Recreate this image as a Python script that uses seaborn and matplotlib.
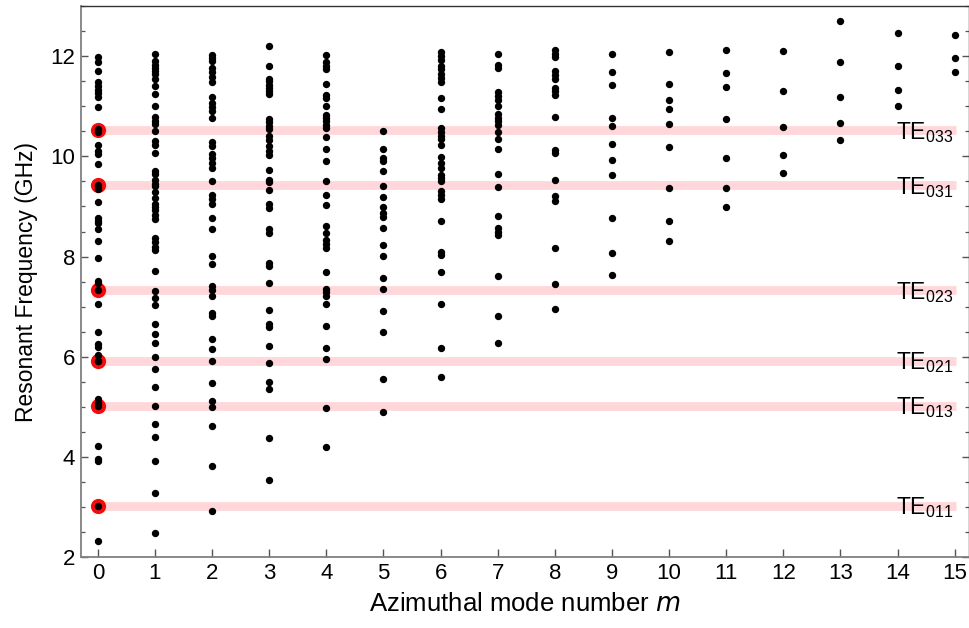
import numpy as np
import pandas as pd
import matplotlib
matplotlib.use("Agg")
import matplotlib.pyplot as plt
import seaborn as sns
from matplotlib.ticker import MultipleLocator

# ---------------- data ----------------
m0 = [11.98, 11.88, 11.71, 11.49, 11.40, 11.33, 11.27, 11.19, 10.98, 10.55, 10.48,
      10.22, 10.10, 10.05, 9.85, 9.39, 9.35, 9.08, 8.78, 8.72, 8.67, 8.55, 8.32,
      7.98, 7.51, 7.47, 7.33, 7.05, 6.50, 6.25, 6.20, 6.03, 5.91, 5.15, 5.07, 5.02,
      4.22, 3.97, 3.92, 3.03, 2.33, 10.52, 9.42, 5.92]
m1 = [12.05, 11.90, 11.83, 11.77, 11.71, 11.65, 11.55, 11.40, 11.25, 11.01, 10.78,
      10.71, 10.65, 10.51, 10.30, 10.22, 10.07, 9.71, 9.65, 9.53, 9.45, 9.40, 9.28,
      9.17, 9.05, 8.99, 8.92, 8.83, 8.75, 8.37, 8.29, 8.20, 8.13, 7.72, 7.32, 7.17,
      7.03, 6.65, 6.45, 6.28, 5.99, 5.75, 5.39, 5.02, 4.65, 4.41, 3.92, 3.29, 2.49]
m2 = [12.03, 11.97, 11.90, 11.77, 11.68, 11.58, 11.48, 11.19, 11.07, 10.99, 10.90,
      10.77, 10.28, 10.20, 10.05, 9.97, 9.87, 9.77, 9.50, 9.23, 9.15, 9.05, 8.77,
      8.55, 8.01, 7.85, 7.41, 7.34, 7.21, 6.88, 6.81, 6.35, 6.15, 5.91, 5.47, 5.11,
      4.99, 4.62, 3.83, 2.93]
m3 = [12.20, 11.81, 11.55, 11.50, 11.43, 11.37, 11.30, 11.25, 10.75, 10.68, 10.61,
      10.55, 10.40, 10.33, 10.20, 10.10, 10.03, 9.73, 9.53, 9.48, 9.33, 9.05, 8.97,
      8.55, 8.47, 7.87, 7.81, 7.47, 6.93, 6.65, 6.59, 6.21, 5.88, 5.50, 5.35, 4.38,
      3.55]
m4 = [12.03, 11.88, 11.81, 11.75, 11.45, 11.23, 11.17, 11.00, 10.83, 10.77, 10.70,
      10.63, 10.57, 10.39, 10.15, 9.90, 9.50, 9.23, 9.03, 8.61, 8.48, 8.33, 8.25,
      8.17, 7.70, 7.35, 7.29, 7.22, 7.05, 6.62, 6.17, 5.95, 4.97, 4.21]
m5 = [10.50, 10.15, 9.97, 9.90, 9.70, 9.40, 9.19, 8.99, 8.88, 8.80, 8.58, 8.23,
      8.02, 7.57, 7.35, 6.92, 6.49, 5.55, 4.89]
m6 = [12.08, 12.01, 11.93, 11.81, 11.75, 11.65, 11.57, 11.48, 11.17, 10.95, 10.57,
      10.49, 10.41, 10.35, 10.23, 9.99, 9.87, 9.77, 9.63, 9.57, 9.50, 9.30, 9.22,
      9.15, 8.71, 8.10, 8.03, 7.70, 7.05, 6.18, 5.60]
m7 = [12.05, 11.83, 11.77, 11.28, 11.20, 11.12, 11.01, 10.85, 10.77, 10.70, 10.63,
      10.49, 10.35, 10.15, 9.65, 9.39, 8.81, 8.58, 8.50, 8.43, 7.61, 6.81, 6.27]
m8 = [12.12, 12.05, 11.99, 11.70, 11.63, 11.55, 11.37, 11.30, 11.22, 10.79, 10.13,
      10.07, 9.53, 9.20, 9.10, 8.18, 7.45, 6.95]
m9 = [12.05, 11.69, 11.43, 10.77, 10.61, 10.25, 9.92, 9.63, 8.77, 8.08, 7.63]
m10 = [12.08, 11.45, 11.12, 10.95, 10.65, 10.18, 9.37, 8.72, 8.31]
m11 = [12.12, 11.67, 11.38, 10.75, 9.97, 9.37, 8.99]
m12 = [12.10, 11.31, 10.58, 10.02, 9.67]
m13 = [12.70, 11.88, 11.19, 10.67, 10.33]
m14 = [12.47, 11.81, 11.32, 11.00]
m15 = [12.43, 11.97, 11.68]
columns = [m0, m1, m2, m3, m4, m5, m6, m7, m8, m9, m10, m11, m12, m13, m14, m15]

te_names = ["TE$_{011}$", "TE$_{013}$", "TE$_{021}$", "TE$_{023}$", "TE$_{031}$", "TE$_{033}$"]
te_freqs = [3.03, 5.02, 5.92, 7.33, 9.42, 10.52]

x_ticks = list(range(0, 16))
y_ticks = [2, 4, 6, 8, 10, 12]

# ---------------- build frames ----------------
df = pd.DataFrame({
    "m": np.concatenate([[i] * len(c) for i, c in enumerate(columns)]),
    "f": np.concatenate(columns),
})
te_df = pd.DataFrame({"m": [0] * len(te_freqs), "f": te_freqs, "name": te_names})

# ---------------- style ----------------
sns.set_theme(style="white")
plt.rcParams["font.family"] = ["Liberation Sans", "DejaVu Sans"]
plt.rcParams["mathtext.default"] = "regular"
plt.rcParams["text.color"] = "black"
plt.rcParams["axes.labelcolor"] = "black"
plt.rcParams["xtick.labelcolor"] = "black"
plt.rcParams["ytick.labelcolor"] = "black"

fig = plt.figure(figsize=(9.7, 6.28), dpi=100)
ax = fig.add_axes([0.0832, 0.1126, 0.9158, 0.8778])

# pink bands
for f in te_freqs:
    ax.plot([0, 15.02], [f, f], color="#FFD6DA", lw=6.3, solid_capstyle="butt", zorder=1)

# red circles at m = 0
sns.scatterplot(data=te_df, x="m", y="f", ax=ax, color="#F20D0D", s=120,
                linewidth=0, zorder=2, legend=False)
# black dots
sns.scatterplot(data=df, x="m", y="f", ax=ax, color="black", s=28,
                linewidth=0, zorder=3, legend=False)

# TE labels
for name, f in zip(te_names, te_freqs):
    ax.text(14.97, f - 0.17, name, ha="right", va="baseline", fontsize=16.5,
            color="black", zorder=4)

ax.set_xlim(-0.3, 15.25)
ax.set_ylim(2, 13)
ax.set_xticks(x_ticks)
ax.set_yticks(y_ticks)
ax.yaxis.set_minor_locator(MultipleLocator(0.5))

ax.set_xlabel("Azimuthal mode number $\\it{m}$", fontsize=18.5, labelpad=6)
ax.set_ylabel("Resonant Frequency (GHz)", fontsize=16.5, labelpad=9)

ax.tick_params(axis="both", which="major", labelsize=16, direction="in",
               color="#555555", width=1.0)
ax.tick_params(axis="x", which="major", length=6, bottom=True, top=False, pad=4)
ax.tick_params(axis="y", which="major", length=5, left=True, right=True, pad=4)
ax.tick_params(axis="y", which="minor", length=3, left=True, right=True,
               direction="in", color="#555555", width=0.9)
ax.tick_params(axis="x", which="minor", bottom=False, top=False)

for side in ["left", "bottom"]:
    ax.spines[side].set_color("#808080")
    ax.spines[side].set_linewidth(1.3)
for side in ["top", "right"]:
    ax.spines[side].set_color("#333333")
    ax.spines[side].set_linewidth(1.0)
    ax.spines[side].set_visible(True)

fig.savefig("out.png", dpi=100)
